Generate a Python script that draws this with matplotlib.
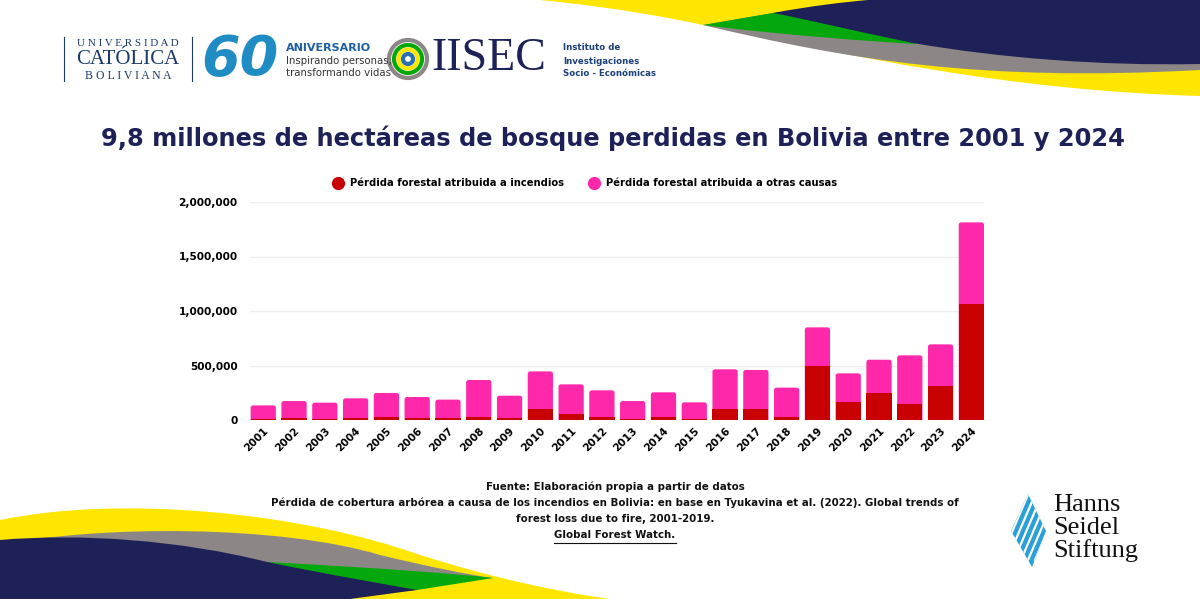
import numpy as np
import matplotlib
matplotlib.use("Agg")
import matplotlib.pyplot as plt
from matplotlib.path import Path
from matplotlib.patches import PathPatch, Circle, Polygon, FancyBboxPatch
from matplotlib.lines import Line2D

# data (hectáreas)
years = [str(y) for y in range(2001, 2025)]
fuego = [9000, 15000, 9000, 18000, 28000, 15000, 15000, 28000, 15000, 104000,
         52000, 24000, 9000, 24000, 6000, 104000, 98000, 28000, 495000, 168000,
         245000, 144000, 312000, 1064000]
total = [134000, 174000, 159000, 199000, 248000, 211000, 187000, 367000, 223000, 446000,
         327000, 272000, 174000, 254000, 162000, 465000, 459000, 297000, 850000, 428000,
         553000, 593000, 694000, 1813000]
otras = [t - f for t, f in zip(total, fuego)]
yticks = [0, 500000, 1000000, 1500000, 2000000]

ROJO = "#c80000"
ROSA = "#ff28aa"
NAVY = "#1e2157"
AMARILLO = "#ffe600"
VERDE = "#04a80c"
GRIS = "#8c8686"

fig = plt.figure(figsize=(12, 5.99), dpi=100)

# background layer in pixel coords
bg = fig.add_axes([0, 0, 1, 1], zorder=0)
bg.set_xlim(0, 1200)
bg.set_ylim(599, 0)
bg.axis("off")


def shape(pts, codes, color):
    p = Path(pts, codes)
    bg.add_patch(PathPatch(p, facecolor=color, edgecolor="none"))


M, L, C, Z = Path.MOVETO, Path.LINETO, Path.CURVE4, Path.CLOSEPOLY

# top-right waves
shape([(540, 0), (620, 8), (670, 18), (703, 25),
       (850, 55), (1000, 90), (1200, 96), (1200, 0), (540, 0)],
      [M, C, C, C, C, C, C, L, Z], AMARILLO)
shape([(703, 25), (850, 60), (980, 82), (1200, 70), (1200, 0), (773, 13), (703, 25)],
      [M, C, C, C, L, L, Z], GRIS)
shape([(703, 25), (780, 35), (880, 42), (915, 44), (915, 0), (773, 13), (703, 25)],
      [M, C, C, C, L, L, Z], VERDE)
shape([(773, 13), (810, 6), (845, 2), (868, 0), (1200, 0), (1200, 64),
       (1100, 66), (1000, 58), (913, 43), (850, 30), (800, 18), (773, 13)],
      [M, C, C, C, L, L, C, C, C, C, C, C], NAVY)

# bottom-left waves
shape([(0, 520), (120, 495), (300, 512), (420, 555), (500, 580), (560, 592), (610, 599),
       (0, 599), (0, 520)],
      [M, C, C, C, C, C, C, L, Z], AMARILLO)
shape([(0, 545), (100, 525), (280, 525), (380, 555), (430, 567), (470, 575), (493, 578),
       (300, 590), (0, 599), (0, 545)],
      [M, C, C, C, C, C, C, L, L, Z], GRIS)
shape([(267, 562), (380, 568), (460, 574), (493, 578), (417, 590), (300, 599), (267, 562)],
      [M, C, C, C, L, L, Z], VERDE)
shape([(0, 540), (80, 533), (180, 540), (267, 562), (330, 575), (390, 585), (417, 590),
       (350, 599), (0, 599), (0, 540)],
      [M, C, C, C, C, C, C, L, L, Z], NAVY)

# header logos
UCB = "#1c3a68"
bg.plot([64, 64], [37, 81], color=UCB, lw=0.8)
bg.plot([192, 192], [37, 81], color=UCB, lw=0.8)
bg.text(128, 43, "U N I V E R S I D A D", fontsize=8, family="Liberation Serif",
        color=UCB, ha="center", va="center")
bg.text(128, 60, "CATÓLICA", fontsize=15, family="Liberation Serif", color=UCB,
        ha="center", va="center")
bg.text(128, 76, "B O L I V I A N A", fontsize=8.5, family="Liberation Serif",
        color=UCB, ha="center", va="center")
bg.text(240, 60, "60", fontsize=40, fontweight="bold", color="#1f8cc4",
        ha="center", va="center", style="italic")
bg.text(286, 48, "ANIVERSARIO", fontsize=8, fontweight="bold", color="#1d5fa0",
        ha="left", va="center")
bg.text(286, 61, "Inspirando personas,", fontsize=7.3, color="#333333", ha="left", va="center")
bg.text(286, 73, "transformando vidas", fontsize=7.3, color="#333333", ha="left", va="center")
for r, c in [(19, GRIS), (14, VERDE), (9.5, AMARILLO), (5, "#2a6fb0")]:
    bg.add_patch(Circle((408, 59), r, facecolor="none", edgecolor=c, lw=3))
bg.text(431, 59, "IISEC", fontsize=33, family="Liberation Serif", color=NAVY,
        ha="left", va="center")
for i, t in enumerate(["Instituto de", "Investigaciones", "Socio - Económicas"]):
    bg.text(563, 48 + i * 13, t, fontsize=6.2, fontweight="bold", color="#1d3f7a",
            ha="left", va="center")

# Hanns Seidel logo
diamond = Polygon([(1028, 494), (1046, 531), (1032, 567), (1011, 531)],
                  closed=True, facecolor="#2aa0d8", edgecolor="none")
bg.add_patch(diamond)
for k in range(7):
    ln = Line2D([1000 + k * 7, 1030 + k * 7], [560, 490], color="white", lw=1.6)
    bg.add_line(ln)
    ln.set_clip_path(diamond)
for i, w in enumerate(["Hanns", "Seidel", "Stiftung"]):
    bg.text(1053, 505 + i * 23, w, fontsize=19, family="Liberation Serif",
            color="#111111", ha="left", va="center")

# title
bg.text(613, 138, "9,8 millones de hectáreas de bosque perdidas en Bolivia entre 2001 y 2024",
        fontsize=17.4, fontweight="bold", color=NAVY, ha="center", va="center")

# footer
pie = ["Fuente: Elaboración propia a partir de datos",
       "Pérdida de cobertura arbórea a causa de los incendios en Bolivia: en base en Tyukavina et al. (2022). Global trends of",
       "forest loss due to fire, 2001-2019.",
       "Global Forest Watch."]
pie_txt = []
for i, t in enumerate(pie):
    pie_txt.append(bg.text(615, 487 + i * 16, t, fontsize=7.4, fontweight="bold",
                           color="#111111", ha="center", va="center"))

# chart
ax = fig.add_axes([250 / 1200, 1 - 420 / 599, 734 / 1200, 218 / 599], zorder=2)
ax.patch.set_alpha(0)
x = np.arange(len(years))
w = 0.82
# rounded tops: full-height pink bar (bottom hidden below axis), red drawn on top
for xi, t in zip(x, total):
    ax.add_patch(FancyBboxPatch((xi - w / 2, -40000), w, t + 40000,
                                boxstyle="round,pad=0,rounding_size=0.08",
                                mutation_aspect=280000, facecolor=ROSA,
                                edgecolor="none", zorder=3))
ax.bar(x, fuego, width=w, color=ROJO, zorder=4)
ax.set_xlim(-0.43, 23.41)
ax.set_ylim(0, 2000000)
ax.set_yticks(yticks)
ax.set_yticklabels([f"{v:,}" for v in yticks], fontsize=7.6, fontweight="bold")
ax.set_xticks(x)
ax.set_xticklabels(years, rotation=45, ha="right", rotation_mode="anchor",
                   fontsize=7.6, fontweight="bold")
ax.grid(axis="y", color="#eeeeee", lw=1, zorder=0)
ax.tick_params(length=0, pad=9)
ax.tick_params(axis="x", pad=4)
for s in ax.spines.values():
    s.set_visible(False)

handles = [Line2D([], [], marker="o", ls="", color=ROJO, markersize=8.5),
           Line2D([], [], marker="o", ls="", color=ROSA, markersize=8.5)]
fig.legend(handles, ["Pérdida forestal atribuida a incendios",
                     "Pérdida forestal atribuida a otras causas"],
           loc="center", bbox_to_anchor=(583 / 1200, 1 - 183 / 599), ncol=2,
           frameon=False, prop={"weight": "bold", "size": 7.2},
           handletextpad=0.2, columnspacing=2.0)

# underline for the link line
fig.canvas.draw()
bb = pie_txt[-1].get_window_extent().transformed(bg.transData.inverted())
bg.plot([bb.x0, bb.x1], [543, 543], color="#111111", lw=0.8)

fig.savefig("out.png", dpi=100)
